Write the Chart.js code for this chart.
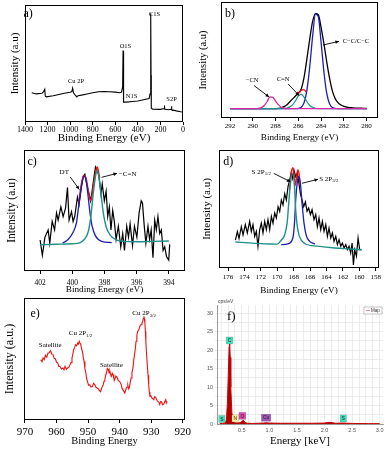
<!DOCTYPE html>
<html>
<head>
<meta charset="utf-8">
<script src="https://cdn.jsdelivr.net/npm/chart.js@4.4.1/dist/chart.umd.min.js"></script>
<style>
  body { margin: 0; background: #fff; width: 390px; height: 450px; position: relative; overflow: hidden; }
  .panel { position: absolute; }
</style>
</head>
<body>
<div class="panel" style="left:0;top:0;width:190px;height:147px"><canvas id="chartA"></canvas></div>
<div class="panel" style="left:190px;top:0;width:200px;height:147px"><canvas id="chartB"></canvas></div>
<div class="panel" style="left:0;top:147px;width:190px;height:152px"><canvas id="chartC"></canvas></div>
<div class="panel" style="left:190px;top:147px;width:200px;height:152px"><canvas id="chartD"></canvas></div>
<div class="panel" style="left:0;top:297px;width:200px;height:153px"><canvas id="chartE"></canvas></div>
<div class="panel" style="left:190px;top:297px;width:200px;height:153px"><canvas id="chartF"></canvas></div>
<script>
// ---- a) survey spectrum
const aEnergy = [1340, 1300, 1250, 1235, 1225, 1220, 1210, 1150, 1100, 1050, 1000, 985, 978, 970, 955, 940, 930, 900, 850, 800, 750, 700, 650, 600, 560, 545, 535, 531, 528, 525, 500, 450, 400, 350, 300, 292, 287, 285, 283, 281, 270, 200, 168, 165, 162, 130, 105, 102, 99, 60, 20, 0];
const aIntensity = [25, 24, 24.5, 26, 28, 22, 21.5, 22.5, 23.5, 24.5, 25.5, 26, 29, 25, 23, 21.5, 22.5, 23, 24, 25, 25.8, 26, 25.8, 25.5, 25, 25.5, 30, 61, 30, 17, 17, 17.5, 18, 19, 20, 24, 40, 93, 40, 12, 11, 10.8, 11.5, 14, 11, 10.5, 11, 13.5, 10.5, 9.5, 8.8, 8.5];
const aTicks = [1400, 1200, 1000, 800, 600, 400, 200, 0];

// ---- b) C1s
const bEnergy = [292, 291.75, 291.5, 291.25, 291, 290.75, 290.5, 290.25, 290, 289.75, 289.5, 289.25, 289, 288.75, 288.5, 288.25, 288, 287.75, 287.5, 287.25, 287, 286.75, 286.5, 286.25, 286, 285.75, 285.5, 285.25, 285, 284.75, 284.5, 284.25, 284, 283.75, 283.5, 283.25, 283, 282.75, 282.5, 282.25, 282, 281.75, 281.5, 281.25, 281, 280.75, 280.5, 280.25, 280];
const bEnvelope = [8, 8, 8, 8, 8, 8, 8, 8, 8, 8, 8, 8, 8, 8, 8, 8, 8, 8.3, 8.8, 9.8, 11.5, 14, 16.5, 19, 21.5, 25, 35, 51, 68, 83, 90, 89, 78, 64, 48, 34, 23, 16.5, 13, 11.2, 10, 9.4, 9, 8.8, 8.6, 8.5, 8.4, 8.3, 8.2];
const bCC = [8, 8, 8, 8, 8, 8, 8, 8, 8, 8, 8, 8, 8, 8, 8, 8, 8, 8, 8, 8, 8, 8, 8, 8, 8.2, 9.3, 13.2, 23.9, 44.2, 70.1, 89.5, 87.5, 65, 39.4, 21, 12, 9, 8.2, 8, 8, 8, 8, 8, 8, 8, 8, 8, 8, 8];
const bCN = [8, 8, 8, 8, 8, 8, 8, 8, 8, 8, 8, 8, 8, 8, 8, 8, 8, 8, 8, 8.2, 8.6, 9.6, 11.6, 15, 19, 20.4, 18, 14, 10.8, 9.2, 8.4, 8.1, 8, 8, 8, 8, 8, 8, 8, 8, 8, 8, 8, 8, 8, 8, 8, 8, 8];
const bCyano = [8, 8, 8, 8, 8, 8, 8, 8, 8, 8, 8.3, 9, 10.8, 14, 18.2, 17.8, 14.5, 11.3, 9.3, 8.4, 8.1, 8, 8, 8, 8, 8, 8, 8, 8, 8, 8, 8, 8, 8, 8, 8, 8, 8, 8, 8, 8, 8, 8, 8, 8, 8, 8, 8, 8];
const bSumEnergy = [286.1, 285.9, 285.75, 285.55, 285.4, 285.3];
const bSum = [19.5, 22, 23.8, 24.5, 23.5, 22.5];
const bTicks = [292, 290, 288, 286, 284, 282, 280];

// ---- c) N1s
const cEnergy = [402.0, 401.86, 401.7, 401.5, 401.4, 401.25, 401.1, 400.98, 400.88, 400.71, 400.57, 400.42, 400.3, 400.2, 400.05, 399.95, 399.85, 399.68, 399.58, 399.43, 399.33, 399.22, 399.12, 398.97, 398.87, 398.77, 398.66, 398.56, 398.45, 398.35, 398.22, 398.14, 398.01, 397.9, 397.8, 397.7, 397.6, 397.49, 397.39, 397.28, 397.14, 396.99, 396.87, 396.76, 396.62, 396.51, 396.41, 396.26, 396.14, 395.99, 395.85, 395.72, 395.64, 395.53, 395.43, 395.3, 395.2, 395.1, 394.99, 394.88, 394.78, 394.68, 394.57, 394.47, 394.36, 394.26, 394.15, 394.01, 393.95];
const cIntensity = [25.6, 13, 28, 34, 23, 41, 34, 48, 42, 53, 45, 52, 69, 42, 49, 41, 45, 61, 55, 70, 78, 80, 73, 64, 58, 66, 77, 86, 83, 79, 64, 72, 58, 66, 45, 53, 34, 50, 41, 26, 37, 20, 31, 17, 37, 28, 39, 21, 37, 28, 48, 58, 56, 37, 23, 37, 26, 34, 11, 42, 34, 45, 31, 34, 17, 20, 12, 9, 22];
const cDtEnergy = [400.6, 400.26, 399.95, 399.74, 399.6, 399.43, 399.26, 399.12, 399.02, 398.9, 398.77, 398.56, 398.18, 397.55];
const cDtFit = [23, 26, 32, 40, 54, 70, 78.5, 73, 62, 48, 37, 29, 24.5, 23.5];
const cCnEnergy = [402, 401, 400, 399.5, 399.26, 399.02, 398.85, 398.7, 398.56, 398.45, 398.35, 398.22, 398.07, 397.9, 397.65, 397.24, 396.72, 396, 395, 394];
const cCnFit = [21.7, 22.1, 22.5, 23.5, 26, 32, 45, 64, 78, 83, 78, 64, 47.6, 36.6, 29.7, 25.6, 24.5, 24.2, 24.5, 24.8];
const cSumEnergy = [399.6, 399.45, 399.3, 399.15, 399.0, 398.85, 398.7, 398.55, 398.45, 398.3];
const cSum = [56, 71, 79, 77, 66, 58, 70, 82, 86, 77];
const cTicks = [402, 400, 398, 396, 394];

// ---- d) S2p
const dEnergy = [175.1, 174.86, 174.66, 174.38, 174.17, 173.89, 173.65, 173.36, 173.16, 172.96, 172.75, 172.55, 172.35, 172.14, 171.94, 171.74, 171.53, 171.33, 171.13, 170.92, 170.72, 170.52, 170.31, 170.11, 169.9, 169.7, 169.5, 169.3, 169.09, 168.89, 168.69, 168.48, 168.28, 168.12, 167.96, 167.75, 167.55, 167.39, 167.18, 166.98, 166.78, 166.57, 166.37, 166.17, 165.96, 165.76, 165.52, 165.31, 165.11, 164.91, 164.7, 164.5, 164.3, 164.09, 163.89, 163.69, 163.48, 163.28, 163.08, 162.87, 162.67, 162.47, 162.26, 162.06, 161.86, 161.65, 161.45, 161.25, 161.05, 160.88, 160.72, 160.56, 160.35, 160.15, 159.95, 159.74];
const dIntensity = [23.7, 30.8, 25, 35, 28, 36.7, 29.7, 39.5, 31, 36.7, 26.8, 31, 18.4, 32.5, 38, 29.7, 39.5, 32.5, 41, 32.5, 43.8, 38, 46.6, 42.4, 52, 48, 57.6, 53.4, 63, 57.6, 68.9, 74.6, 81.6, 76, 83, 77.4, 80.8, 73.2, 63, 57.6, 52, 56, 48, 50.8, 45.2, 49.4, 41, 45.2, 35, 42.4, 32.5, 39.5, 31, 36.7, 26.8, 33.9, 25.4, 29.7, 22.6, 26.8, 19.8, 24, 18.4, 21.2, 17, 19.8, 15.5, 18.4, 12.7, 21.2, 2.5, 15.5, 9.9, 25.4, 15.5, 15.5];
const dP12Energy = [175.1, 173, 171, 170, 169.5, 169.1, 168.8, 168.6, 168.4, 168.1, 167.9, 167.75, 167.55, 167.3, 166.7, 165.1, 163, 161, 159.7];
const dP12Fit = [22, 21.1, 20.3, 20.2, 23.7, 28, 38, 55, 72, 80, 69, 49, 35, 26.8, 21, 18.5, 16.9, 16.1, 15.5];
const dP32Energy = [169.5, 168.7, 168.1, 167.9, 167.75, 167.55, 167.39, 167.18, 166.98, 166.74, 166.46, 166.05, 165.4];
const dP32Fit = [19.7, 20.5, 25.4, 38, 57.6, 73, 77.4, 71.8, 55, 38, 27.4, 22.6, 20.3];
const dSumEnergy = [168.5, 168.3, 168.1, 167.95, 167.8, 167.65, 167.5, 167.35, 167.2];
const dSum = [66, 80, 85, 80, 70, 76, 83, 80, 70];
const dTicks = [176, 174, 172, 170, 168, 166, 164, 162, 160, 158];

// ---- e) Cu2p
const eEnergy = [965.0, 964.6, 964.27, 963.9, 963.5, 963.1, 962.7, 962.3, 961.9, 961.5, 961.1, 960.75, 960.4, 960.0, 959.6, 959.25, 958.9, 958.45, 958.0, 957.65, 957.3, 956.9, 956.5, 956.1, 955.7, 955.4, 955.1, 954.85, 954.6, 954.3, 954.0, 953.65, 953.3, 953.05, 952.8, 952.55, 952.3, 952.05, 951.8, 951.5, 951.25, 951.0, 950.7, 950.45, 950.2, 949.85, 949.5, 949.05, 948.6, 948.25, 947.9, 947.5, 947.1, 946.75, 946.4, 946.05, 945.7, 945.45, 945.2, 944.95, 944.7, 944.45, 944.2, 943.9, 943.6, 943.35, 943.1, 942.85, 942.6, 942.35, 942.1, 941.85, 941.6, 941.2, 940.8, 940.45, 940.1, 939.8, 939.5, 939.25, 939.0, 938.7, 938.4, 938.15, 937.9, 937.65, 937.4, 937.15, 936.9, 936.65, 936.4, 936.1, 935.8, 935.55, 935.3, 935.05, 934.8, 934.55, 934.3, 934.0, 933.75, 933.45, 933.2, 932.95, 932.7, 932.5, 932.3, 932.15, 932.0, 931.85, 931.7, 931.5, 931.25, 931.0, 930.8, 930.6, 930.4, 930.1, 929.8, 929.5, 929.2, 928.85, 928.5, 928.2, 927.9, 927.6, 927.3, 927.0, 926.7, 926.35, 926.0, 925.7, 925.4, 925.2, 925.0];
const eIntensity = [49.5, 47.8, 50.8, 49.6, 53, 51.5, 54.9, 55.2, 56.8, 54, 53.6, 50.5, 50.3, 47.5, 46.7, 43.8, 44, 41.8, 42.6, 41.2, 44, 41.5, 42.6, 43.2, 45.4, 47, 50.8, 53.5, 57.7, 58.9, 61.7, 60.8, 63.1, 62.2, 64.5, 62.8, 61.7, 58.2, 56.3, 51, 48, 42, 38.5, 33.8, 31.7, 28.5, 29, 27, 27.6, 30, 29, 26.8, 26.2, 25.5, 24, 23.2, 26.2, 27.4, 29, 31.8, 33, 36.5, 38.5, 42.2, 41.3, 38.6, 39.9, 37.1, 35.8, 38.4, 37.2, 34.2, 33, 36, 35, 32.5, 31.7, 30.8, 29, 26, 24.9, 23.5, 22.1, 24, 26.2, 27, 28.4, 25.5, 26.8, 30.8, 34.4, 38.8, 42.6, 48.5, 53.6, 58.2, 64.5, 69.5, 72.7, 73.5, 75.4, 77.8, 78.1, 79.5, 80.9, 83.2, 85, 82.6, 79.5, 72.5, 64.5, 55, 45.4, 36.6, 29, 22.8, 19.4, 19.9, 18, 17.5, 16.7, 19.2, 18, 16.2, 15.3, 14.6, 12.6, 15.2, 14.8, 12.4, 13.1, 15.2, 16.7, 14.1, 15.3];
const eTicks = [970, 960, 950, 940, 930, 920];

// ---- f) EDS
const fEnergy = [0.10, 0.15, 0.20, 0.22, 0.24, 0.26, 0.27, 0.28, 0.29, 0.30, 0.32, 0.34, 0.37, 0.40, 0.45, 0.49, 0.51, 0.525, 0.54, 0.56, 0.60, 0.70, 0.80, 0.90, 0.93, 1.00, 1.20, 1.50, 1.80, 2.00, 2.05, 2.10, 2.15, 2.20, 2.31, 2.50, 2.80, 3.00];
const fCounts = [0.1, 0.15, 0.3, 1, 6, 16, 21, 21.9, 18, 10, 3, 0.8, 0.3, 0.3, 0.3, 0.5, 0.9, 1.0, 0.8, 0.4, 0.2, 0.15, 0.2, 0.25, 0.35, 0.25, 0.2, 0.2, 0.2, 0.25, 0.4, 0.45, 0.35, 0.2, 0.25, 0.15, 0.1, 0.1];
const fElements = ['S', 'C', 'N', 'O', 'Cu', 'S'];

const SERIF = "'Liberation Serif', 'DejaVu Serif', serif";
const SANS = "'Liberation Sans', 'DejaVu Sans', sans-serif";
Chart.defaults.font.family = SERIF;
Chart.defaults.color = '#000';

const BLACK = '#000000', BLUE = '#1c1cb8', TEAL = '#1f8f8a', RED = '#ee1111', MAGENTA = '#d22aa8';

// annotations for each canvas (labels / arrows in data units)
const decor = {};

function pairs(xs, ys) {
    return xs.map((x, i) => ({ x: x, y: ys[i] }));
}

function series(xs, ys, color, width, order, smooth) {
    return {
        data: pairs(xs, ys),
        borderColor: color,
        borderWidth: width,
        pointRadius: 0,
        fill: false,
        order: order,
        cubicInterpolationMode: smooth ? 'monotone' : 'default'
    };
}

function drawArrow(ctx, x1, y1, x2, y2) {
    ctx.strokeStyle = '#000';
    ctx.fillStyle = '#000';
    ctx.lineWidth = 0.9;
    ctx.beginPath();
    ctx.moveTo(x1, y1);
    ctx.lineTo(x2, y2);
    ctx.stroke();
    const ang = Math.atan2(y2 - y1, x2 - x1);
    const h = 4;
    ctx.beginPath();
    ctx.moveTo(x2, y2);
    ctx.lineTo(x2 - h * Math.cos(ang - 0.45), y2 - h * Math.sin(ang - 0.45));
    ctx.lineTo(x2 - h * Math.cos(ang + 0.45), y2 - h * Math.sin(ang + 0.45));
    ctx.closePath();
    ctx.fill();
}

function drawLabel(ctx, lab, px, py) {
    const size = lab.size || 6.5;
    const subSize = size * 0.7;
    ctx.textBaseline = 'middle';
    ctx.textAlign = 'left';
    ctx.fillStyle = '#000';
    ctx.font = size + 'px ' + SERIF;
    const mainW = ctx.measureText(lab.text).width;
    let subW = 0;
    if (lab.sub) {
        ctx.font = subSize + 'px ' + SERIF;
        subW = ctx.measureText(lab.sub).width;
    }
    const x0 = px - (mainW + subW) / 2;
    ctx.font = size + 'px ' + SERIF;
    ctx.fillText(lab.text, x0, py);
    if (lab.sub) {
        ctx.font = subSize + 'px ' + SERIF;
        ctx.fillText(lab.sub, x0 + mainW, py + size * 0.3);
    }
}

// frame, labels, arrows, element boxes
Chart.register({
    id: 'panelDecor',
    afterDraw(chart) {
        const d = decor[chart.canvas.id];
        if (!d) return;
        const ctx = chart.ctx;
        const a = chart.chartArea;
        const xs = chart.scales.x, ys = chart.scales.y;
        ctx.save();
        if (d.frame) {
            const L = Math.round(a.left), T = Math.round(a.top), R = Math.round(a.right), B = Math.round(a.bottom);
            ctx.fillStyle = '#000000';
            ctx.fillRect(L, T, R - L, 1);
            ctx.fillRect(L, B - 1, R - L, 1);
            ctx.fillRect(L, T, 1, B - T);
            ctx.fillRect(R - 1, T, 1, B - T);
        }
        (d.boxes || []).forEach(b => {
            const px = xs.getPixelForValue(b.x), py = ys.getPixelForValue(b.y);
            ctx.font = '5px ' + SANS;
            const w = Math.max(6, ctx.measureText(b.text).width + 3);
            const h = 7;
            ctx.fillStyle = b.color;
            ctx.fillRect(px - w / 2, py - h / 2, w, h);
            ctx.strokeStyle = 'rgba(0,0,0,0.25)';
            ctx.lineWidth = 0.5;
            ctx.strokeRect(px - w / 2, py - h / 2, w, h);
            ctx.fillStyle = '#222';
            ctx.textAlign = 'center';
            ctx.textBaseline = 'middle';
            ctx.fillText(b.text, px, py + 0.3);
        });
        (d.arrows || []).forEach(r => drawArrow(ctx,
            xs.getPixelForValue(r.x1), ys.getPixelForValue(r.y1),
            xs.getPixelForValue(r.x2), ys.getPixelForValue(r.y2)));
        (d.labels || []).forEach(l => drawLabel(ctx, l, xs.getPixelForValue(l.x), ys.getPixelForValue(l.y)));
        if (d.legend) {
            const x0 = a.right - 19, y0 = a.top + 2;
            ctx.fillStyle = '#fff';
            ctx.fillRect(x0, y0, 18, 7);
            ctx.strokeStyle = '#999';
            ctx.lineWidth = 0.6;
            ctx.strokeRect(x0, y0, 18, 7);
            ctx.strokeStyle = '#b06060';
            ctx.beginPath();
            ctx.moveTo(x0 + 2, y0 + 3.5);
            ctx.lineTo(x0 + 6, y0 + 3.5);
            ctx.stroke();
            ctx.fillStyle = '#333';
            ctx.font = '4.5px ' + SANS;
            ctx.textAlign = 'left';
            ctx.textBaseline = 'middle';
            ctx.fillText(d.legend, x0 + 7, y0 + 3.7);
        }
        ctx.restore();
    }
});

function xpsChart(id, cfg) {
    decor[id] = { frame: true, labels: cfg.labels, arrows: cfg.arrows };
    return new Chart(document.getElementById(id), {
        type: 'line',
        data: { datasets: cfg.datasets },
        options: {
            responsive: true,
            maintainAspectRatio: false,
            animation: false,
            events: [],
            layout: { padding: cfg.padding },
            plugins: { legend: { display: false }, tooltip: { enabled: false } },
            scales: {
                x: {
                    type: 'linear',
                    reverse: true,
                    min: cfg.xMin,
                    max: cfg.xMax,
                    afterBuildTicks: s => { s.ticks = cfg.xTicks.map(v => ({ value: v })); },
                    afterFit: s => { s.height = cfg.xHeight; },
                    grid: { drawOnChartArea: false, drawTicks: true, tickLength: 3, color: '#000' },
                    border: { display: false },
                    ticks: {
                        font: { family: SERIF, size: cfg.tickSize }, color: '#000', padding: cfg.tickPad,
                        maxRotation: 0, autoSkip: false, callback: v => String(v)
                    },
                    title: { display: true, text: cfg.xTitle, color: '#000', font: { family: SERIF, size: cfg.xTitleSize }, padding: { top: 0, bottom: cfg.xTitlePad } }
                },
                y: {
                    min: 0,
                    max: 100,
                    afterFit: s => { s.width = cfg.yWidth; },
                    ticks: { display: false },
                    grid: { display: false },
                    border: { display: false },
                    title: { display: true, text: cfg.yTitle, color: '#000', font: { family: SERIF, size: cfg.yTitleSize }, padding: { top: cfg.yTitlePad, bottom: 0 } }
                }
            }
        }
    });
}

// a)
xpsChart('chartA', {
    datasets: [series(aEnergy, aIntensity, BLACK, 1.1, 0, false)],
    padding: { left: 0, top: 5, right: 7, bottom: 0 },
    xMin: 0, xMax: 1400, xTicks: aTicks, xHeight: 25, tickSize: 8, tickPad: 0,
    xTitle: 'Binding Energy (eV)', xTitleSize: 11, xTitlePad: 2.4,
    yWidth: 25, yTitle: 'Intensity (a.u)', yTitleSize: 11, yTitlePad: 8.4,
    labels: [
        { text: 'a)', x: 1373, y: 92.3, size: 12 },
        { text: 'C1S', x: 253, y: 91.9 },
        { text: 'O1S', x: 510, y: 64.4 },
        { text: 'Cu 2P', x: 948, y: 34.4 },
        { text: 'N1S', x: 455, y: 22.2 },
        { text: 'S2P', x: 101, y: 19 }
    ]
});

// b)
xpsChart('chartB', {
    datasets: [
        series(bEnergy, bEnvelope, BLACK, 1.3, 5, true),
        series(bEnergy, bCC, BLUE, 1.3, 4, true),
        series(bEnergy, bCN, TEAL, 1.2, 3, true),
        series(bSumEnergy, bSum, RED, 1.2, 2, true),
        series(bEnergy, bCyano, MAGENTA, 1.3, 1, true)
    ],
    padding: { left: 0, top: 2, right: 12, bottom: 0 },
    xMin: 279, xMax: 292.8, xTicks: bTicks, xHeight: 29, tickSize: 7, tickPad: 1,
    xTitle: 'Binding Energy (eV)', xTitleSize: 9.2, xTitlePad: 3.8,
    yWidth: 31, yTitle: 'Intensity (a.u)', yTitleSize: 10.5, yTitlePad: 6.7,
    labels: [
        { text: 'b)', x: 292.0, y: 89.7, size: 12 },
        { text: 'C\u2212C/C\u2212C', x: 280.94, y: 66 },
        { text: '\u2212CN', x: 290.07, y: 32.8 },
        { text: 'C=N', x: 287.35, y: 33.6 }
    ],
    arrows: [
        { x1: 283.83, y1: 62.9, x2: 282.43, y2: 66.1 },
        { x1: 289.9, y1: 28, x2: 288.57, y2: 18.1 },
        { x1: 286.9, y1: 29.3, x2: 285.94, y2: 19.4 }
    ]
});

// c)
xpsChart('chartC', {
    datasets: [
        series(cEnergy, cIntensity, BLACK, 1.2, 4, false),
        series(cSumEnergy, cSum, RED, 1.4, 3, true),
        series(cDtEnergy, cDtFit, BLUE, 1.3, 2, true),
        series(cCnEnergy, cCnFit, TEAL, 1.4, 1, true)
    ],
    padding: { left: 0, top: 3, right: 5, bottom: 0 },
    xMin: 393, xMax: 403, xTicks: cTicks, xHeight: 28, tickSize: 7.5, tickPad: 4.5,
    xTitle: 'Binding Energy (eV)', xTitleSize: 9.2, xTitlePad: 3.5,
    yWidth: 24, yTitle: 'Intensity (a.u)', yTitleSize: 11.5, yTitlePad: 4.8,
    labels: [
        { text: 'c)', x: 402.5, y: 90, size: 12 },
        { text: 'DT', x: 400.5, y: 81.8, size: 7 },
        { text: '\u2212C=N', x: 396.56, y: 80.2, size: 7 }
    ],
    arrows: [
        { x1: 400.13, y1: 77.7, x2: 399.57, y2: 67.4 },
        { x1: 398.18, y1: 77.4, x2: 397.22, y2: 80.7 }
    ]
});

// d)
xpsChart('chartD', {
    datasets: [
        series(dEnergy, dIntensity, BLACK, 1.2, 4, false),
        series(dSumEnergy, dSum, RED, 1.4, 3, true),
        series(dP32Energy, dP32Fit, BLUE, 1.3, 2, true),
        series(dP12Energy, dP12Fit, TEAL, 1.4, 1, true)
    ],
    padding: { left: 0, top: 3, right: 11, bottom: 0 },
    xMin: 157.6, xMax: 177.1, xTicks: dTicks, xHeight: 31, tickSize: 7, tickPad: 2,
    xTitle: 'Binding Energy (eV)', xTitleSize: 9.2, xTitlePad: 2.8,
    yWidth: 29, yTitle: 'Intensity (a.u)', yTitleSize: 11, yTitlePad: 10.1,
    labels: [
        { text: 'd)', x: 175.98, y: 89.8, size: 12 },
        { text: 'S 2P', sub: '1/2', x: 171.95, y: 81.6, size: 7 },
        { text: 'S 2P', sub: '3/2', x: 163.72, y: 75.4, size: 7 }
    ],
    arrows: [
        { x1: 170.43, y1: 80.2, x2: 168.39, y2: 73.1 },
        { x1: 166.98, y1: 71.8, x2: 165.02, y2: 75.2 }
    ]
});

// e)
xpsChart('chartE', {
    datasets: [series(eEnergy, eIntensity, RED, 1.1, 0, false)],
    padding: { left: 0, top: 1, right: 15, bottom: 0 },
    xMin: 919.3, xMax: 970.3, xTicks: eTicks, xHeight: 30, tickSize: 11, tickPad: 2.5,
    xTitle: 'Binding Energy', xTitleSize: 10.5, xTitlePad: 2,
    yWidth: 24, yTitle: 'Intensity (a.u.)', yTitleSize: 12, yTitlePad: 2.8,
    labels: [
        { text: 'e)', x: 966.8, y: 86.9, size: 12 },
        { text: 'Satellite', x: 962, y: 61.6, size: 7 },
        { text: 'Cu 2P', sub: '1/2', x: 952.4, y: 70.9, size: 7 },
        { text: 'Satellite', x: 942.6, y: 45, size: 7 },
        { text: 'Cu 2P', sub: '3/2', x: 932.25, y: 87.3, size: 7 }
    ]
});

// f) EDS spectrum
decor['chartF'] = {
    frame: false,
    legend: 'Map',
    labels: [
        { text: 'f)', x: 0.31, y: 29, size: 13 }
    ],
    boxes: [
        { text: fElements[0], x: 0.14, y: 1.35, color: '#45e0bd' },
        { text: fElements[1], x: 0.277, y: 22.6, color: '#45e0bd' },
        { text: fElements[2], x: 0.38, y: 1.5, color: '#fff59a' },
        { text: fElements[3], x: 0.51, y: 2.2, color: '#e04ab4' },
        { text: fElements[4], x: 0.94, y: 1.7, color: '#a255b4' },
        { text: fElements[5], x: 2.34, y: 1.5, color: '#45e0bd' }
    ]
};

new Chart(document.getElementById('chartF'), {
    type: 'line',
    data: {
        datasets: [{
            data: pairs(fEnergy, fCounts),
            borderColor: '#c80000',
            backgroundColor: '#b00000',
            borderWidth: 1,
            pointRadius: 0,
            fill: 'origin'
        }]
    },
    options: {
        responsive: true,
        maintainAspectRatio: false,
        animation: false,
        events: [],
        layout: { padding: { left: 0, top: 8, right: 7, bottom: 0 } },
        plugins: {
            legend: { display: false },
            tooltip: { enabled: false },
            title: { display: false }
        },
        scales: {
            x: {
                type: 'linear',
                min: 0.05,
                max: 3.06,
                afterFit: s => { s.height = 26; },
                grid: { color: '#e4e4e4', lineWidth: 0.7, tickLength: 2 },
                border: { color: '#999' },
                ticks: {
                    stepSize: 0.125, includeBounds: false, autoSkip: false, maxRotation: 0, padding: 1,
                    font: { family: SANS, size: 5.5 }, color: '#555',
                    callback: v => Math.abs(v * 2 - Math.round(v * 2)) < 1e-6 ? v.toFixed(1) : ''
                },
                title: { display: true, text: 'Energy [keV]', color: '#000', font: { family: SERIF, size: 11 }, padding: { top: 0, bottom: 2.7 } }
            },
            y: {
                min: 0,
                max: 32.2,
                afterFit: s => { s.width = 27; },
                grid: { color: '#e4e4e4', lineWidth: 0.7, tickLength: 2 },
                border: { color: '#999' },
                ticks: {
                    stepSize: 2.5, includeBounds: false, autoSkip: false, padding: 2,
                    font: { family: SANS, size: 5.5 }, color: '#555',
                    callback: v => Math.abs(v % 5) < 1e-6 ? String(v) : ''
                }
            }
        }
    },
    plugins: [{
        id: 'cpsUnit',
        afterDraw(chart) {
            const ctx = chart.ctx, a = chart.chartArea;
            ctx.save();
            ctx.font = '5px ' + SANS;
            ctx.fillStyle = '#444';
            ctx.textAlign = 'left';
            ctx.textBaseline = 'bottom';
            ctx.fillText('cps/eV', a.left + 1, a.top - 1);
            ctx.restore();
        }
    }]
});
</script>
</body>
</html>
